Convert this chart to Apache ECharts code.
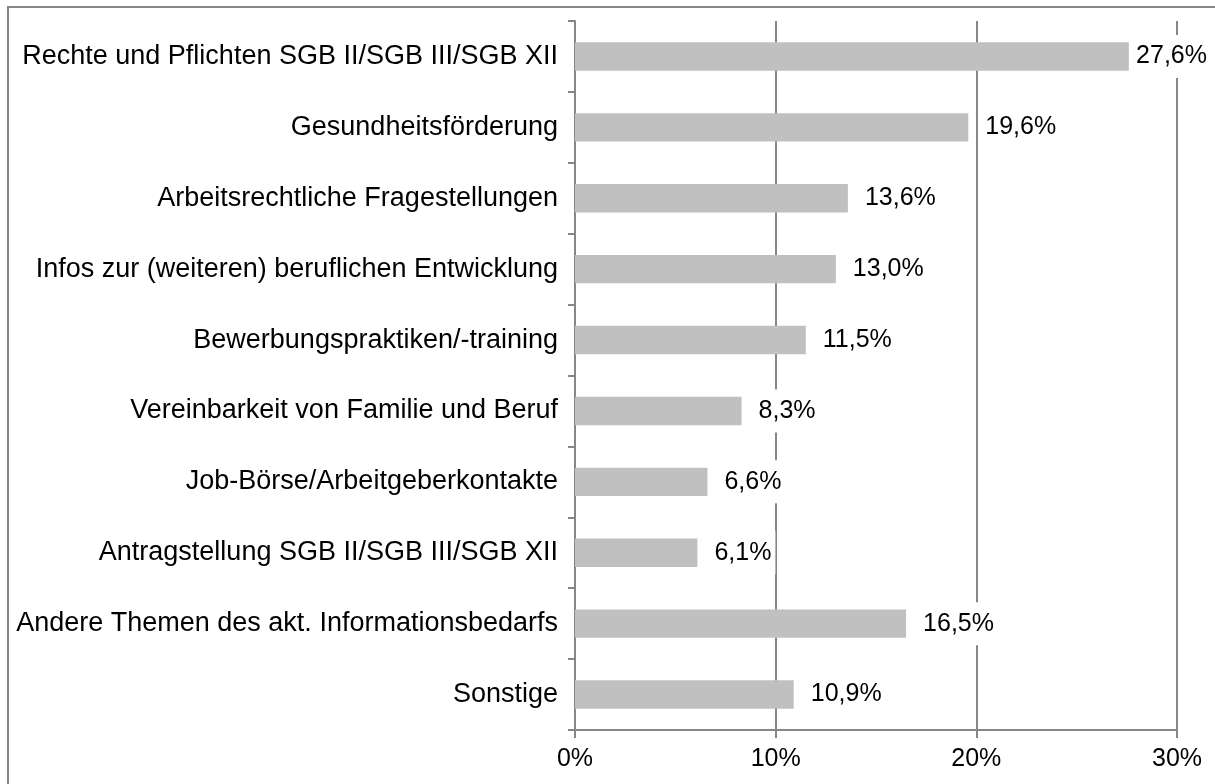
<!DOCTYPE html>
<html><head><meta charset="utf-8">
<script src="https://cdn.jsdelivr.net/npm/echarts@6/dist/echarts.min.js"></script>
<style>html,body{margin:0;padding:0;background:#fff}#c{width:1215px;height:784px}</style>
</head><body><div id="c"></div>
<script>
var categories = [
  "Rechte und Pflichten SGB II/SGB III/SGB XII",
  "Gesundheitsförderung",
  "Arbeitsrechtliche Fragestellungen",
  "Infos zur (weiteren) beruflichen Entwicklung",
  "Bewerbungspraktiken/-training",
  "Vereinbarkeit von Familie und Beruf",
  "Job-Börse/Arbeitgeberkontakte",
  "Antragstellung SGB II/SGB III/SGB XII",
  "Andere Themen des akt. Informationsbedarfs",
  "Sonstige"
];
var values = [27.6, 19.6, 13.6, 13.0, 11.5, 8.3, 6.6, 6.1, 16.5, 10.9];
var xTicks = [0, 10, 20, 30];

var chart = echarts.init(document.getElementById('c'));
var axisColor = '#868686';
var font = 'Liberation Sans, Arial, sans-serif';
chart.setOption({
  animation: false,
  graphic: [{
    type: 'rect', shape: {x: 8, y: 7, width: 1230, height: 800},
    style: {fill: 'none', stroke: axisColor, lineWidth: 2}, silent: true, z: 100
  }],
  grid: {left: 575, right: 38, top: 21, bottom: 54},
  xAxis: {
    type: 'value', min: xTicks[0], max: xTicks[xTicks.length - 1], interval: 10,
    axisLine: {show: true, lineStyle: {color: axisColor, width: 2}},
    axisTick: {show: true, length: 8, lineStyle: {color: axisColor, width: 2}},
    splitLine: {show: true, lineStyle: {color: axisColor, width: 2}},
    axisLabel: {color: '#000', fontSize: 25, fontFamily: font, margin: 17,
      formatter: function (v) { return v + '%'; }}
  },
  yAxis: {
    type: 'category', data: categories, inverse: true,
    axisLine: {show: true, lineStyle: {color: axisColor, width: 2}},
    axisTick: {show: true, length: 7, alignWithLabel: false, lineStyle: {color: axisColor, width: 2}},
    axisLabel: {color: '#000', fontSize: 27, fontFamily: font, margin: 17}
  },
  series: [{
    type: 'bar', data: values, barCategoryGap: '60%',
    itemStyle: {color: '#c0c0c0'},
    label: {
      show: true, position: 'right', distance: 13, color: '#000', fontSize: 25, fontFamily: font,
      backgroundColor: '#fff', padding: [9, 4],
      formatter: function (p) { return p.value.toFixed(1).replace('.', ',') + '%'; }
    },
    labelLayout: function (p) {
      var r = p.labelRect;
      var limit = 1211;
      var right = r.x + r.width;
      return right > limit ? {dx: limit - right} : {};
    }
  }]
});
</script></body></html>
